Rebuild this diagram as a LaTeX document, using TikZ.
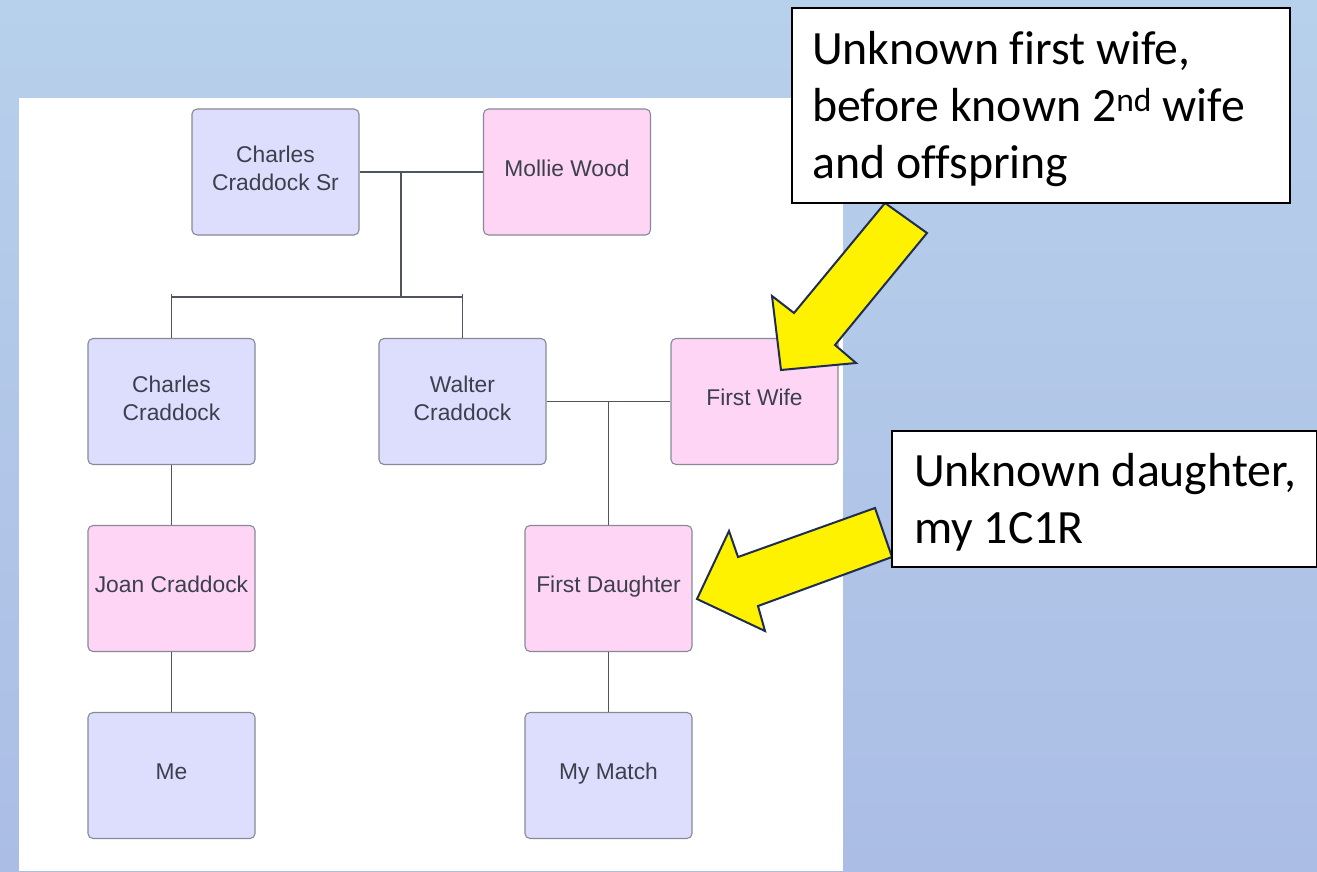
\documentclass[tikz,border=0pt]{standalone}
\usepackage{fontspec}
\setmainfont{Liberation Sans}
\newfontfamily\notefont{Carlito}[Ligatures=NoCommon]

\definecolor{bgtop}{RGB}{183,208,235}
\definecolor{bgbottom}{RGB}{171,189,229}
\definecolor{malefill}{RGB}{221,222,253}
\definecolor{femalefill}{RGB}{255,213,246}
\definecolor{boxline}{RGB}{135,138,150}
\definecolor{nametext}{RGB}{60,64,76}
\definecolor{linkgray}{RGB}{80,84,92}
\definecolor{arrowedge}{RGB}{30,45,80}

\begin{document}
\begin{tikzpicture}[x=1pt,y=-1pt,
  person/.style={draw=boxline, line width=1.1pt, rounded corners=5pt,
    minimum width=167pt, minimum height=126pt, align=center, text=nametext,
    font=\fontsize{22.8}{28}\selectfont, inner sep=0pt},
  oneline/.style={text height=16.5pt, text depth=8pt},
  twoline/.style={text height=45pt, text depth=8pt},
  male/.style={person, fill=malefill},
  female/.style={person, fill=femalefill},
  link/.style={draw=linkgray, line width=1.2pt},
  callout/.style={draw=black, line width=2pt, fill=white, inner sep=0pt, anchor=north west},
  notetext/.style={font=\notefont\fontsize{47.8}{57}\selectfont, anchor=base west,
    inner sep=0pt, align=flush left, text width=470pt},
  blockarrow/.style={fill=yellow, draw=arrowedge, line width=2pt, line join=miter}
]
\useasboundingbox (0,0) rectangle (1317,871);

% slide background and the white chart panel
\shade[top color=bgtop, bottom color=bgbottom] (0,0) rectangle (1317,871);
\fill[white] (19,98) rectangle (843,871);

% family members
\node[male, twoline]   (sr)       at (275.5,172)   {Charles\\Craddock Sr};
\node[female, oneline] (mollie)   at (567,172)     {Mollie Wood};
\node[male, twoline]   (charles)  at (171.5,401.5) {Charles\\Craddock};
\node[male, twoline]   (walter)   at (462.5,401.5) {Walter\\Craddock};
\node[female, oneline] (wife)     at (754.5,401.5) {First Wife};
\node[female, oneline] (joan)     at (171.5,588.5) {Joan Craddock};
\node[female, oneline] (daughter) at (608.5,588.5) {First Daughter};
\node[male, oneline]   (me)       at (171.5,775.5) {Me};
\node[male, oneline]   (match)    at (608.5,775.5) {My Match};

% couple and sibling links
\coordinate (srpair) at (401,172);
\coordinate (sibbar) at (401,297);
\draw[link] (sr.east) -- (mollie.west);
\draw[link] (srpair) -- (sibbar);
\draw[link] (charles.north) -- (charles.north |- sibbar) -- (walter.north |- sibbar) -- (walter.north);
\draw[link] (charles.north |- sibbar) -- ++(0,-3);
\draw[link] (walter.north |- sibbar) -- ++(0,-3);
\draw[link] (walter.east) -- (wife.west);
\draw[link] (daughter.north) -- (daughter.north |- wife.west);
\draw[link] (charles.south) -- (joan.north);
\draw[link] (joan.south) -- (me.north);
\draw[link] (daughter.south) -- (match.north);

% yellow block arrows
\draw[blockarrow] (885,203) -- (794,313) -- (772,296) -- (781,370) -- (856,363) -- (835,345) -- (927,233) -- cycle;
\draw[blockarrow] (875,508) -- (738,557) -- (729,531) -- (697,599) -- (765,631) -- (758,606) -- (892,557) -- cycle;

% callouts
\node[callout, minimum width=498pt, minimum height=195pt] (note1) at (791,7) {};
\node[notetext] (note1text) at (812,64) {Unknown first wife,\\before known 2\textsuperscript{nd} wife\\and offspring};
\node[callout, minimum width=425pt, minimum height=136pt] (note2) at (891,430) {};
\node[notetext] (note2text) at (914,486) {Unknown daughter,\\my 1C1R};
\end{tikzpicture}
\end{document}
